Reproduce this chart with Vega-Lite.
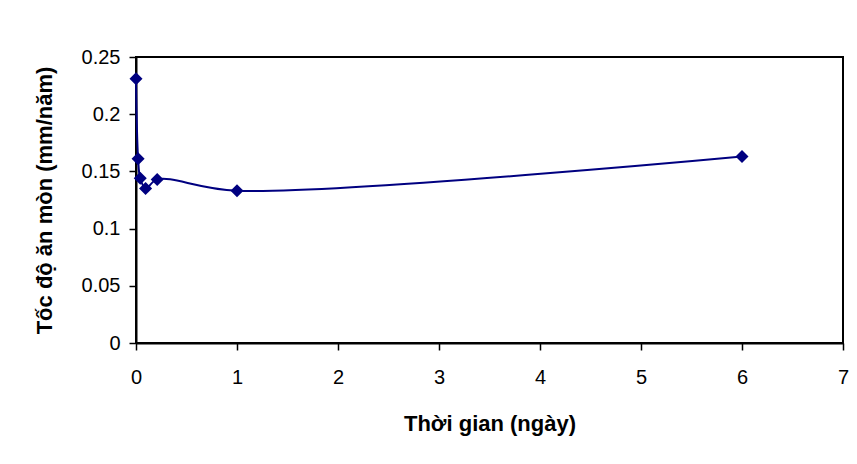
{
  "$schema": "https://vega.github.io/schema/vega-lite/v6.json",
  "autosize": {"type": "none"},
  "width": 707,
  "height": 286,
  "padding": {"left": 136, "top": 57, "right": 14, "bottom": 121},
  "background": "white",
  "config": {
    "view": {"stroke": "black", "strokeWidth": 2},
    "font": "Liberation Sans",
    "axis": {
      "grid": false,
      "domainColor": "black",
      "domainWidth": 2,
      "tickColor": "black",
      "tickWidth": 1.5,
      "tickSize": 7,
      "labelFlush": false,
      "labelOverlap": false,
      "labelFont": "Liberation Sans",
      "labelFontSize": 20,
      "labelColor": "black",
      "titleFont": "Liberation Sans",
      "titleFontSize": 22,
      "titleFontWeight": "bold",
      "titleColor": "black"
    }
  },
  "data": {
    "values": [
      {"t": 0, "r": 0.231},
      {"t": 0.0208, "r": 0.161},
      {"t": 0.042, "r": 0.144},
      {"t": 0.095, "r": 0.135},
      {"t": 0.21, "r": 0.143},
      {"t": 1, "r": 0.133},
      {"t": 6, "r": 0.163}
    ]
  },
  "encoding": {
    "x": {
      "field": "t",
      "type": "quantitative",
      "scale": {"domain": [0, 7], "nice": false},
      "axis": {"values": [0, 1, 2, 3, 4, 5, 6, 7], "format": "d", "labelPadding": 17, "title": "Thời gian (ngày)", "titlePadding": 26}
    },
    "y": {
      "field": "r",
      "type": "quantitative",
      "scale": {"domain": [0, 0.25], "nice": false},
      "axis": {"values": [0, 0.05, 0.1, 0.15, 0.2, 0.25], "format": "~g", "labelPadding": 9, "title": "Tốc độ ăn mòn (mm/năm)", "titlePadding": 25}
    }
  },
  "layer": [
    {"mark": {"type": "line", "color": "#000080", "strokeWidth": 2, "interpolate": "catmull-rom"}},
    {"mark": {"type": "point", "shape": "diamond", "filled": true, "color": "#000080", "opacity": 1, "size": 170}}
  ]
}
